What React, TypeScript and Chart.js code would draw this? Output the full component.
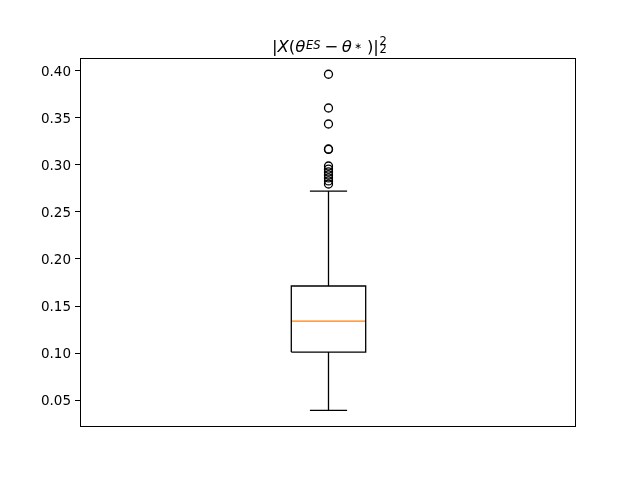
import React, { useEffect, useRef } from "react";
import { Chart, registerables } from "chart.js";

Chart.register(...registerables);

// ---- data ----
const POSITION = 1;
const BOX_WIDTH = 0.15;
const Q1 = 0.101;
const MEDIAN = 0.134;
const Q3 = 0.1713;
const WHISKER_LOW = 0.039;
const WHISKER_HIGH = 0.2723;
const OUTLIERS = [0.3965, 0.3606, 0.3436, 0.317, 0.3165, 0.2989, 0.2957, 0.2926, 0.2894, 0.2862, 0.283, 0.2798];
const Y_TICKS = [0.05, 0.1, 0.15, 0.2, 0.25, 0.3, 0.35, 0.4];
const Y_MIN = 0.0213;
const Y_MAX = 0.4138;
const X_MIN = 0.499;
const X_MAX = 1.499;

const FONT = "'DejaVu Sans', sans-serif";

const framePlugin = {
  id: "frame",
  afterDraw(chart: any) {
    const { ctx, chartArea } = chart;
    ctx.save();
    ctx.strokeStyle = "#000";
    ctx.lineWidth = 1;
    ctx.strokeRect(
      Math.round(chartArea.left) + 0.5,
      Math.round(chartArea.top) + 0.5,
      Math.round(chartArea.right - chartArea.left) - 1,
      Math.round(chartArea.bottom - chartArea.top) - 1
    );
    ctx.restore();
  },
};

const titlePlugin = {
  id: "mathTitle",
  afterDraw(chart: any) {
    const ctx = chart.ctx;
    ctx.save();
    ctx.fillStyle = "#000";
    ctx.textBaseline = "alphabetic";
    ctx.textAlign = "left";
    const big = 16.5;
    const small = 11.5;
    const base = 51.5;
    let x = 272;
    const seg = (t: string, italic: boolean, size: number, y: number, advance = true) => {
      ctx.font = `${italic ? "italic " : ""}${size}px ${FONT}`;
      ctx.fillText(t, x, y);
      const w = ctx.measureText(t).width;
      if (advance) x += w;
      return w;
    };
    seg("|", false, big, base);
    seg("X", true, big, base);
    seg("(", false, big, base);
    seg("θ", true, big, base);
    x += 0.5;
    seg("ES", true, small, 48.6);
    x += 4;
    seg("−", false, big, base);
    x += 3.5;
    seg("θ", true, big, base);
    x += 2.5;
    seg("∗", false, 9, 48.5);
    x += 5;
    seg(")", false, big, base);
    seg("|", false, big, base);
    x += 0.5;
    seg("2", false, small, 44.5, false);
    seg("2", false, small, 52.5);
    ctx.restore();
  },
};

export default function App() {
  const ref = useRef<HTMLCanvasElement | null>(null);

  useEffect(() => {
    if (!ref.current) return;
    const left = POSITION - BOX_WIDTH / 2;
    const right = POSITION + BOX_WIDTH / 2;
    const capL = POSITION - BOX_WIDTH / 4;
    const capR = POSITION + BOX_WIDTH / 4;
    const line = (data: { x: number; y: number }[], color = "#000") => ({
      type: "line" as const,
      data,
      borderColor: color,
      borderWidth: 1.3,
      pointRadius: 0,
      fill: false,
      tension: 0,
    });
    const chart = new Chart(ref.current, {
      type: "line",
      data: {
        datasets: [
          line([
            { x: POSITION, y: Q1 },
            { x: POSITION, y: WHISKER_LOW },
          ]),
          line([
            { x: POSITION, y: Q3 },
            { x: POSITION, y: WHISKER_HIGH },
          ]),
          line([
            { x: capL, y: WHISKER_LOW },
            { x: capR, y: WHISKER_LOW },
          ]),
          line([
            { x: capL, y: WHISKER_HIGH },
            { x: capR, y: WHISKER_HIGH },
          ]),
          line([
            { x: left, y: Q1 },
            { x: right, y: Q1 },
            { x: right, y: Q3 },
            { x: left, y: Q3 },
            { x: left, y: Q1 },
          ]),
          line(
            [
              { x: left, y: MEDIAN },
              { x: right, y: MEDIAN },
            ],
            "#ff7f0e"
          ),
          {
            type: "line" as const,
            data: OUTLIERS.map((v) => ({ x: POSITION, y: v })),
            showLine: false,
            pointStyle: "circle",
            pointRadius: 4,
            pointBorderWidth: 1.3,
            pointBorderColor: "#000",
            pointBackgroundColor: "rgba(0,0,0,0)",
          },
        ],
      },
      options: {
        responsive: false,
        animation: false,
        events: [],
        layout: { padding: { left: 0, right: 64, top: 58, bottom: 53 } },
        plugins: {
          legend: { display: false },
          title: { display: false },
          tooltip: { enabled: false },
        },
        scales: {
          x: {
            type: "linear",
            display: false,
            min: X_MIN,
            max: X_MAX,
          },
          y: {
            type: "linear",
            min: Y_MIN,
            max: Y_MAX,
            afterBuildTicks: (scale: any) => {
              scale.ticks = Y_TICKS.map((v) => ({ value: v }));
            },
            afterFit: (scale: any) => {
              scale.width = 80;
            },
            grid: {
              display: true,
              drawOnChartArea: false,
              drawTicks: true,
              tickLength: 5,
              color: "#000",
            },
            border: { display: false },
            ticks: {
              color: "#000",
              padding: 4,
              labelOffset: 1.5,
              font: { family: FONT, size: 13.5 },
              callback: (v: any) => Number(v).toFixed(2),
            },
          },
        },
      },
      plugins: [framePlugin, titlePlugin],
    } as any);
    return () => chart.destroy();
  }, []);

  return (
    <div style={{ position: "absolute", left: 0, top: 0, width: 640, height: 480, background: "#fff" }}>
      <canvas ref={ref} width={640} height={480} style={{ display: "block", width: 640, height: 480 }} />
    </div>
  );
}
